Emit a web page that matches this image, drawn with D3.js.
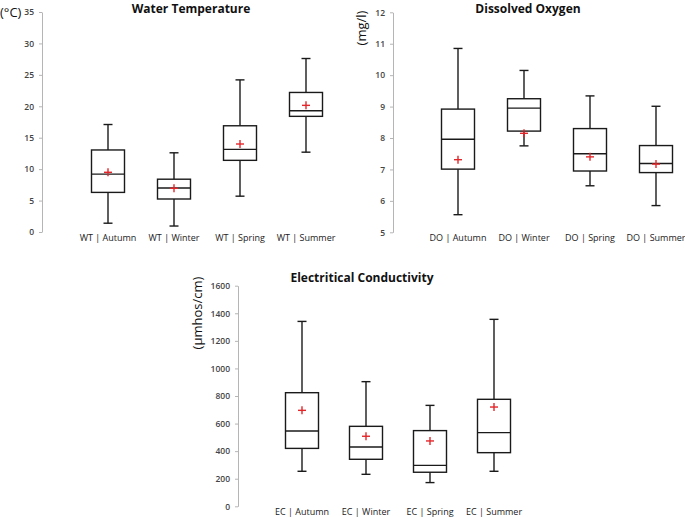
<!DOCTYPE html>
<html><head><meta charset="utf-8">
<script src="https://cdn.jsdelivr.net/npm/d3@7"></script>
<style>body{margin:0;background:#fff}svg{display:block}</style>
</head><body><svg id="c" width="685" height="517"></svg>
<script>
// ---- data ----
const wtCategories = ["WT | Autumn","WT | Winter","WT | Spring","WT | Summer"];
const wtMin    = [1.4, 0.95, 5.7, 12.7];
const wtQ1     = [6.3, 5.25, 11.4, 18.4];
const wtMedian = [9.2, 7.0, 13.15, 19.3];
const wtQ3     = [13.05, 8.4, 16.9, 22.2];
const wtMax    = [17.1, 12.6, 24.2, 27.6];
const wtMean   = [9.5, 6.95, 14.0, 20.15];
const wtTicks  = [0,5,10,15,20,25,30,35];

const doCategories = ["DO | Autumn","DO | Winter","DO | Spring","DO | Summer"];
const doMin    = [5.56, 7.75, 6.48, 5.85];
const doQ1     = [7.01, 8.22, 6.95, 6.9];
const doMedian = [7.96, 8.95, 7.5, 7.19];
const doQ3     = [8.92, 9.25, 8.3, 7.76];
const doMax    = [10.85, 10.15, 9.34, 9.01];
const doMean   = [7.31, 8.15, 7.4, 7.17];
const doTicks  = [5,6,7,8,9,10,11,12];

const ecCategories = ["EC | Autumn","EC | Winter","EC | Spring","EC | Summer"];
const ecMin    = [254, 232, 172, 254];
const ecQ1     = [420, 341, 247, 389];
const ecMedian = [546, 430, 297, 534];
const ecQ3     = [824, 580, 549, 776];
const ecMax    = [1341, 904, 732, 1356];
const ecMean   = [696, 508, 474, 720];
const ecTicks  = [0,200,400,600,800,1000,1200,1400,1600];

const svg = d3.select("#c");
const FONT = "'Open Sans', 'Noto Sans', sans-serif";

function panel(o){
  const y = d3.scaleLinear().domain(o.domain).range([o.yBottom, o.yTop]);
  const x = d3.scalePoint().domain(o.cats).range(o.xRange);
  const g = svg.append("g");
  const ax = g.append("g").attr("transform",`translate(${o.axisX},0)`)
    .call(d3.axisLeft(y).tickValues(o.ticks).tickFormat(d3.format("d")).tickSize(3).tickSizeOuter(0).tickPadding(5));
  ax.select(".domain").attr("stroke","#b5b5b5").attr("stroke-width",1);
  ax.selectAll(".tick line").attr("stroke","#b5b5b5");
  ax.selectAll(".tick text").attr("fill","#444").attr("font-size","8.5px").attr("font-weight","600").attr("font-family",FONT);

  const bw = 33, cw = 9, mw = 4;
  o.cats.forEach((c,i)=>{
    const cx = x(c);
    const s = g.append("g").attr("stroke","#1a1a1a").attr("stroke-width",1.4).attr("fill","none");
    s.append("line").attr("x1",cx).attr("x2",cx).attr("y1",y(o.max[i])).attr("y2",y(o.q3[i]));
    s.append("line").attr("x1",cx).attr("x2",cx).attr("y1",y(o.q1[i])).attr("y2",y(o.min[i]));
    s.append("line").attr("x1",cx-cw/2).attr("x2",cx+cw/2).attr("y1",y(o.max[i])).attr("y2",y(o.max[i]));
    s.append("line").attr("x1",cx-cw/2).attr("x2",cx+cw/2).attr("y1",y(o.min[i])).attr("y2",y(o.min[i]));
    s.append("rect").attr("x",cx-bw/2).attr("width",bw).attr("y",y(o.q3[i])).attr("height",y(o.q1[i])-y(o.q3[i]));
    s.append("line").attr("x1",cx-bw/2).attr("x2",cx+bw/2).attr("y1",y(o.median[i])).attr("y2",y(o.median[i]));
    const m = g.append("g").attr("stroke","#e3262a").attr("stroke-width",1.4);
    m.append("line").attr("x1",cx-mw).attr("x2",cx+mw).attr("y1",y(o.mean[i])).attr("y2",y(o.mean[i]));
    m.append("line").attr("x1",cx).attr("x2",cx).attr("y1",y(o.mean[i])-mw).attr("y2",y(o.mean[i])+mw);
    g.append("text").attr("x",cx).attr("y",o.catY).attr("text-anchor","middle")
      .attr("font-family",FONT).attr("font-size","9px").attr("fill","#222").text(c);
  });
  g.append("text").attr("x",o.titleX).attr("y",o.titleY).attr("text-anchor","middle")
    .attr("font-family",FONT).attr("font-size","12px").attr("font-weight","bold").attr("fill","#111").text(o.title);
  return g;
}

panel({cats:wtCategories,min:wtMin,q1:wtQ1,median:wtMedian,q3:wtQ3,max:wtMax,mean:wtMean,ticks:wtTicks,
  domain:[0,35],yBottom:232,yTop:12,xRange:[108,306],axisX:42,catY:241,title:"Water Temperature",titleX:191,titleY:13});
panel({cats:doCategories,min:doMin,q1:doQ1,median:doMedian,q3:doQ3,max:doMax,mean:doMean,ticks:doTicks,
  domain:[5,12],yBottom:232.3,yTop:12.3,xRange:[458,656],axisX:393,catY:241,title:"Dissolved Oxygen",titleX:528,titleY:13});
panel({cats:ecCategories,min:ecMin,q1:ecQ1,median:ecMedian,q3:ecQ3,max:ecMax,mean:ecMean,ticks:ecTicks,
  domain:[0,1600],yBottom:506.3,yTop:285.7,xRange:[302,494],axisX:238,catY:515,title:"Electritical Conductivity",titleX:362,titleY:282});

// axis unit labels
svg.append("text").attr("x",0).attr("y",17).attr("font-family",FONT).attr("font-size","13px").attr("fill","#111").text("(°C)");
svg.append("text").attr("transform","translate(366,28) rotate(-90)").attr("text-anchor","middle")
  .attr("font-family",FONT).attr("font-size","13px").attr("fill","#111").text("(mg/l)");
svg.append("text").attr("transform","translate(202,313) rotate(-90)").attr("text-anchor","middle")
  .attr("font-family",FONT).attr("font-size","13px").attr("fill","#111").text("(µmhos/cm)");
</script></body></html>
